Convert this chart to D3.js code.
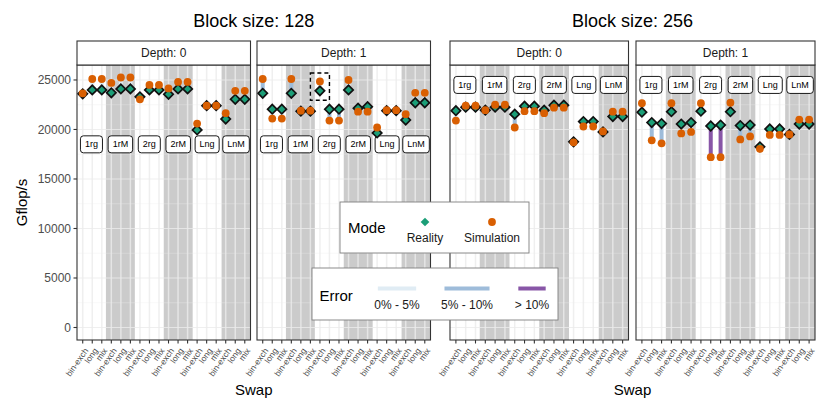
<!DOCTYPE html>
<html><head><meta charset="utf-8">
<script src="https://cdn.jsdelivr.net/npm/d3@7"></script>
<style>body{margin:0;background:#fff} text{font-family:"Liberation Sans",Arial,Helvetica,sans-serif}</style>
</head><body><svg id="c" width="830" height="415"></svg>
<script>
// ---------- data ----------
const groups = ["1rg","1rM","2rg","2rM","Lng","LnM"];
const swaps = ["bin-exch","long","mix"];
const blockSizes = [128, 256];
const depths = [0, 1];
const yTicks = [0, 5000, 10000, 15000, 20000, 25000];
const yMinorTicks = [2500, 7500, 12500, 17500, 22500];

// values ordered group-major (1rg..LnM), swap-minor (bin-exch, long, mix)
const reality_b128_d0    = [23600,24000,24000, 23700,24100,24100, 23300,24000,24000, 23550,24100,24100, 19950,22400,22400, 21050,23050,23050];
const simulation_b128_d0 = [23650,25100,25100, 24700,25250,25250, 23050,24500,24500, 24150,24800,24800, 20600,22400,22400, 21650,23900,23900];
const reality_b128_d1    = [23650,22050,22050, 23650,21850,21850, 23900,22050,22050, 24000,22150,22300, 19650,21900,21900, 20950,22700,22700];
const simulation_b128_d1 = [25100,21100,21100, 25100,21900,21900, 24850,20900,20900, 25000,21800,21800, 20200,21950,21950, 21550,23700,23700];
const reality_b256_d0    = [21900,22250,22250, 21950,22250,22250, 21550,22350,22350, 21950,22450,22450, 18750,20800,20800, 19750,21300,21300];
const simulation_b256_d0 = [20900,22400,22400, 21950,22500,22500, 20200,21850,21850, 21650,22200,22200, 18700,20300,20300, 19800,21800,21800];
const reality_b256_d1    = [21750,20700,20600, 21800,20550,20700, 21850,20350,20450, 21800,20400,20450, 18250,20050,20050, 19500,20550,20550];
const simulation_b256_d1 = [22650,18900,18600, 22650,19600,19750, 22650,17200,17200, 22700,19000,19300, 18050,19450,19450, 19500,21000,21000];

const labelValues = [18500, 24500];   // height (Gflop/s) of group labels, block 128 / 256
const modes = ["Reality", "Simulation"];
const modeColors = ["#1b9e77", "#d95f02"];
const errorClasses = ["0% - 5%", "5% - 10%", "> 10%"];
const errorColors = ["#e0ecf4", "#9ebcda", "#8856a7"];
const highlight = {block:128, depth:1, group:"2rg", swap:"bin-exch", lo:22950, hi:25700};

const series = {
  "128_0": [reality_b128_d0, simulation_b128_d0],
  "128_1": [reality_b128_d1, simulation_b128_d1],
  "256_0": [reality_b256_d0, simulation_b256_d0],
  "256_1": [reality_b256_d1, simulation_b256_d1]
};

// ---------- layout ----------
const svg = d3.select("#c");
const pTop = 65, pBottom = 340, stripTop = 41;
const panels = [
  {block:128, depth:0, x0:77,  x1:250.5},
  {block:128, depth:1, x0:257, x1:430.5},
  {block:256, depth:0, x0:450, x1:628.5},
  {block:256, depth:1, x0:636, x1:815}
];
const allVals = Object.values(series).flatMap(s => s[0].concat(s[1]));
const yMax = d3.max(allVals);
const y = d3.scaleLinear().domain([-0.05*yMax, yMax*1.05]).range([pBottom, pTop]);
const keys = groups.flatMap(g => swaps.map(s => g + "|" + s));
const errClass = (r, s) => { const e = Math.abs(s - r) / r; return e < 0.05 ? 0 : (e < 0.10 ? 1 : 2); };

panels.forEach((p, pi) => {
  const x = d3.scalePoint().domain(keys).range([p.x0, p.x1]).padding(0.6);
  const xb = d3.scaleBand().domain(groups).range([p.x0, p.x1]);
  const g = svg.append("g");
  const w = p.x1 - p.x0;
  g.append("rect").attr("x", p.x0).attr("y", pTop).attr("width", w).attr("height", pBottom - pTop).attr("fill", "#fff");
  g.selectAll("rect.band").data(groups.filter((d, i) => i % 2 === 1)).join("rect")
    .attr("x", d => xb(d)).attr("y", pTop).attr("width", xb.bandwidth()).attr("height", pBottom - pTop)
    .attr("fill", "#cbcbcb");
  g.selectAll("line.ymin").data(yMinorTicks).join("line")
    .attr("x1", p.x0).attr("x2", p.x1).attr("y1", d => y(d)).attr("y2", d => y(d))
    .attr("stroke", "#ebebeb").attr("stroke-opacity", 0.6).attr("stroke-width", 0.6);
  g.selectAll("line.ymaj").data(yTicks).join("line")
    .attr("x1", p.x0).attr("x2", p.x1).attr("y1", d => y(d)).attr("y2", d => y(d))
    .attr("stroke", "#ebebeb").attr("stroke-opacity", 0.8).attr("stroke-width", 1.1);
  g.selectAll("line.xg").data(keys).join("line")
    .attr("x1", d => x(d)).attr("x2", d => x(d)).attr("y1", pTop).attr("y2", pBottom)
    .attr("stroke", "#ebebeb").attr("stroke-opacity", 0.8).attr("stroke-width", 1.5);

  const lv = labelValues[blockSizes.indexOf(p.block)];
  groups.forEach(gr => {
    const cx = xb(gr) + xb.bandwidth() / 2, cy = y(lv);
    const t = g.append("text").attr("x", cx).attr("y", cy).attr("dy", "0.35em")
      .attr("text-anchor", "middle").attr("font-size", 9).attr("fill", "#000").text(gr);
    const tw = t.node().getComputedTextLength();
    g.insert("rect", () => t.node())
      .attr("x", cx - tw/2 - 4.5).attr("y", cy - 8.5).attr("width", tw + 9).attr("height", 17)
      .attr("rx", 3).attr("fill", "#fff").attr("stroke", "#000").attr("stroke-width", 0.9);
  });

  const [real, sim] = series[p.block + "_" + p.depth];
  const pts = keys.map((k, i) => ({k, r: real[i], s: sim[i], c: errClass(real[i], sim[i])}));
  g.selectAll("line.err").data(pts).join("line")
    .attr("x1", d => x(d.k)).attr("x2", d => x(d.k)).attr("y1", d => y(d.r)).attr("y2", d => y(d.s))
    .attr("stroke", d => errorColors[d.c]).attr("stroke-width", 4);
  const diamond = d3.symbol(d3.symbolSquare, 44)();
  g.selectAll("path.real").data(pts).join("path")
    .attr("d", diamond).attr("transform", d => `translate(${x(d.k)},${y(d.r)}) rotate(45)`)
    .attr("fill", modeColors[0]).attr("stroke", "#111").attr("stroke-width", 1.7);
  g.selectAll("circle.sim").data(pts).join("circle")
    .attr("cx", d => x(d.k)).attr("cy", d => y(d.s)).attr("r", 3.9).attr("fill", modeColors[1]);

  if (highlight.block === p.block && highlight.depth === p.depth) {
    const hk = highlight.group + "|" + highlight.swap;
    g.append("rect").attr("x", x(hk) - x.step()).attr("y", y(highlight.hi))
      .attr("width", 2 * x.step()).attr("height", y(highlight.lo) - y(highlight.hi))
      .attr("fill", "none").attr("stroke", "#000").attr("stroke-width", 1.4).attr("stroke-dasharray", "4,3");
  }

  g.append("rect").attr("x", p.x0).attr("y", pTop).attr("width", w).attr("height", pBottom - pTop)
    .attr("fill", "none").attr("stroke", "#333").attr("stroke-width", 1.1);
  g.append("rect").attr("x", p.x0).attr("y", stripTop).attr("width", w).attr("height", pTop - stripTop)
    .attr("fill", "#fff").attr("stroke", "#333").attr("stroke-width", 1.1);
  g.append("text").attr("x", p.x0 + w/2).attr("y", (stripTop + pTop)/2).attr("dy", "0.35em")
    .attr("text-anchor", "middle").attr("font-size", 12).attr("fill", "#1a1a1a").text("Depth: " + p.depth);

  g.selectAll("line.xt").data(keys).join("line")
    .attr("x1", d => x(d)).attr("x2", d => x(d)).attr("y1", pBottom).attr("y2", pBottom + 3.5)
    .attr("stroke", "#333").attr("stroke-width", 1.1);
  g.selectAll("text.xl").data(keys).join("text")
    .attr("transform", d => `translate(${x(d) + 3.5},${pBottom + 9}) rotate(-55)`)
    .attr("text-anchor", "end").attr("dy", "0.35em").attr("font-size", 8.5).attr("fill", "#4d4d4d")
    .text(d => d.split("|")[1]);

  if (pi === 0) {
    g.selectAll("line.yt").data(yTicks).join("line")
      .attr("x1", p.x0 - 3.5).attr("x2", p.x0).attr("y1", d => y(d)).attr("y2", d => y(d))
      .attr("stroke", "#333").attr("stroke-width", 1.1);
    g.selectAll("text.yl").data(yTicks).join("text")
      .attr("x", p.x0 - 6).attr("y", d => y(d)).attr("dy", "0.35em").attr("text-anchor", "end")
      .attr("font-size", 12).attr("fill", "#4d4d4d").text(d => d);
  }
});

[[panels[0], panels[1]], [panels[2], panels[3]]].forEach((pp, i) => {
  const cx = (pp[0].x0 + pp[1].x1) / 2;
  svg.append("text").attr("x", cx).attr("y", 27).attr("text-anchor", "middle")
    .attr("font-size", 18).attr("fill", "#000").text("Block size: " + blockSizes[i]);
  svg.append("text").attr("x", cx).attr("y", 395).attr("text-anchor", "middle")
    .attr("font-size", 15).attr("fill", "#000").text("Swap");
});
svg.append("text").attr("transform", `translate(27,${(pTop + pBottom)/2}) rotate(-90)`)
  .attr("text-anchor", "middle").attr("font-size", 15).attr("fill", "#000").text("Gflop/s");

const lg1 = svg.append("g");
lg1.append("rect").attr("x", 340).attr("y", 202).attr("width", 189).attr("height", 51)
  .attr("fill", "#fff").attr("stroke", "#7f7f7f").attr("stroke-width", 0.9);
lg1.append("text").attr("x", 348).attr("y", 233).attr("font-size", 15).text("Mode");
const modeX = [425, 492];
lg1.append("path").attr("d", d3.symbol(d3.symbolSquare, 38)())
  .attr("transform", `translate(${modeX[0]},222) rotate(45)`).attr("fill", modeColors[0]);
lg1.append("circle").attr("cx", modeX[1]).attr("cy", 222).attr("r", 3.9).attr("fill", modeColors[1]);
modes.forEach((m, i) => lg1.append("text").attr("x", modeX[i]).attr("y", 241.5)
  .attr("text-anchor", "middle").attr("font-size", 12).attr("fill", "#1a1a1a").text(m));

const lg2 = svg.append("g");
lg2.append("rect").attr("x", 312).attr("y", 268).attr("width", 246).attr("height", 52)
  .attr("fill", "#fff").attr("stroke", "#7f7f7f").attr("stroke-width", 0.9);
lg2.append("text").attr("x", 319.5).attr("y", 301).attr("font-size", 15).text("Error");
const errX = [397, 467, 532];
errorClasses.forEach((e, i) => {
  const t = lg2.append("text").attr("x", errX[i]).attr("y", 309).attr("text-anchor", "middle")
    .attr("font-size", 12).attr("fill", "#1a1a1a").text(e);
  const tw = t.node().getComputedTextLength();
  lg2.append("line").attr("x1", errX[i] - tw/2 + 3.5).attr("x2", errX[i] + tw/2 - 3.5)
    .attr("y1", 288.5).attr("y2", 288.5).attr("stroke", errorColors[i]).attr("stroke-width", 4);
});
</script></body></html>
